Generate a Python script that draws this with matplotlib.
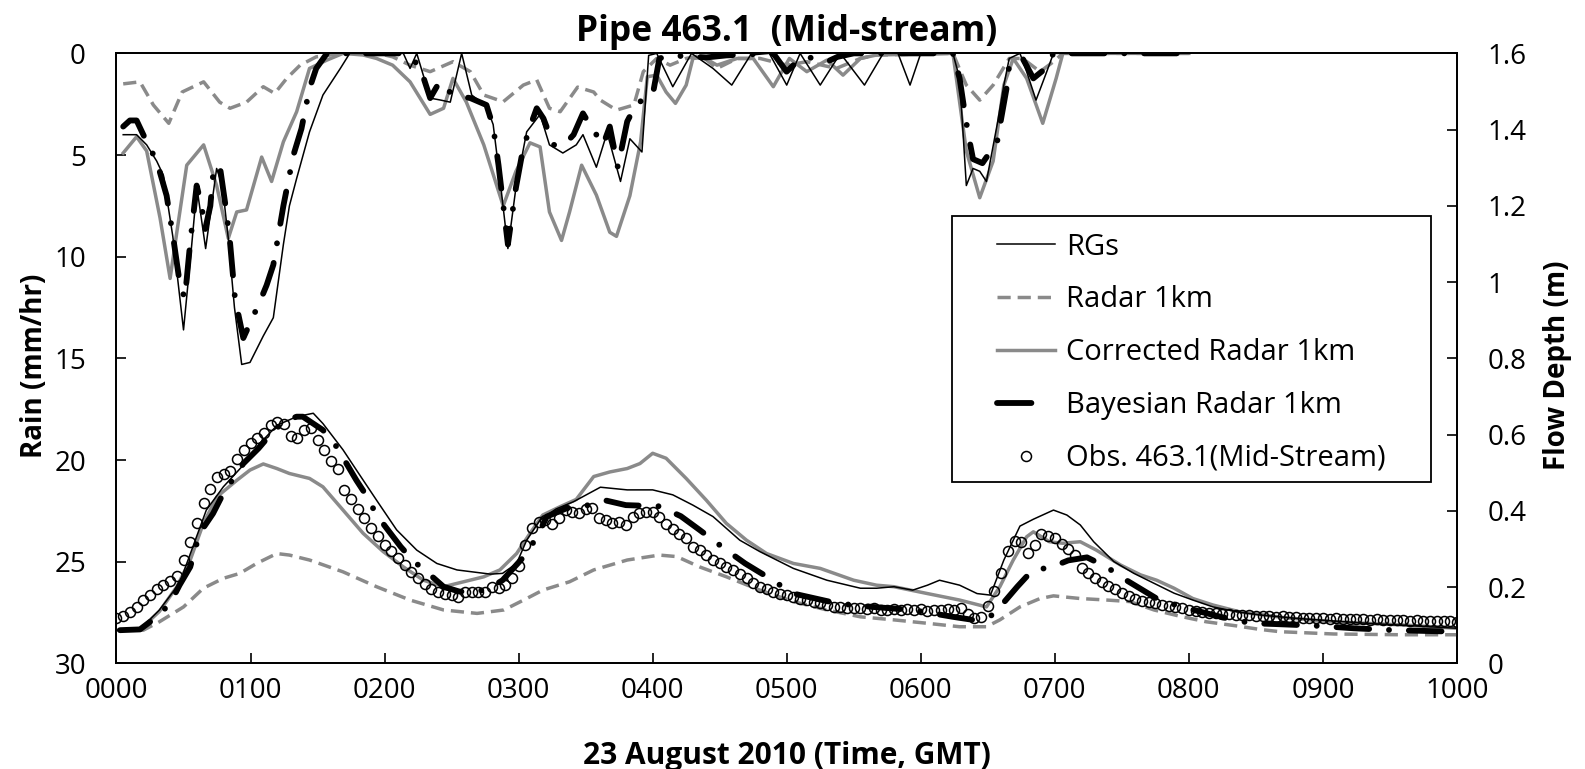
import numpy as np
import matplotlib
matplotlib.use("Agg")
import matplotlib.pyplot as plt
from matplotlib.lines import Line2D
from matplotlib.patches import Rectangle

plt.rcParams['font.family'] = ['Open Sans', 'DejaVu Sans']

# ---------------- data ----------------
x_ticklabels = ['0000', '0100', '0200', '0300', '0400', '0500', '0600', '0700', '0800', '0900', '1000']
rain_ticks = [0, 5, 10, 15, 20, 25, 30]
flow_ticks = [0, 0.2, 0.4, 0.6, 0.8, 1.0, 1.2, 1.4, 1.6]
flow_ticklabels = ['0', '0.2', '0.4', '0.6', '0.8', '1', '1.2', '1.4', '1.6']

# Rain (mm/hr), time in hours
rain_rg_t = [0.05, 0.15, 0.225, 0.30, 0.35, 0.42, 0.50, 0.56, 0.60, 0.665, 0.747, 0.79, 0.834, 0.88, 0.934,
             0.996, 1.095, 1.17, 1.245, 1.29, 1.344, 1.44, 1.54, 1.67, 1.74, 2.14, 2.19, 2.24, 2.34, 2.42,
             2.49, 2.575, 2.65, 2.76, 2.81, 2.86, 2.92, 2.98, 3.06, 3.16, 3.23, 3.33, 3.43, 3.48, 3.58,
             3.66, 3.76, 3.83, 3.92, 3.97, 4.03, 4.15, 4.29, 4.45, 4.59, 4.73, 4.87, 5.0, 5.10, 5.25,
             5.40, 5.58, 5.72, 5.83, 5.92, 6.0, 6.24, 6.29, 6.34, 6.39, 6.44, 6.49, 6.57, 6.62, 6.66,
             6.74, 6.79, 6.86, 6.94, 6.99, 8.0]
rain_rg = [4.0, 4.0, 4.5, 5.3, 6.0, 9.0, 13.6, 9.5, 6.6, 9.6, 5.66, 6.5, 9.1, 12.5, 15.3,
           15.2, 13.9, 13.0, 9.4, 7.5, 6.15, 3.86, 2.05, 0.74, 0.0, 0.0, 0.74, 0.0, 2.2, 2.3,
           2.4, 0.0, 2.05, 2.6, 3.5, 6.15, 9.6, 6.6, 3.86, 3.0, 4.5, 4.9, 4.5, 4.0, 5.6,
           3.9, 6.3, 4.2, 4.85, 0.1, 0.0, 1.64, 0.0, 0.74, 1.56, 0.08, 0.0, 1.56, 0.0, 1.56,
           0.0, 1.56, 0.0, 0.0, 1.56, 0.0, 0.0, 1.23, 6.5, 5.66, 5.8, 6.3, 3.5, 1.56, 0.25,
           0.0, 0.9, 2.3, 0.9, 0.0, 0.0]

rain_radar_t = [0.05, 0.175, 0.275, 0.39, 0.49, 0.65, 0.77, 0.847, 0.97, 1.095, 1.18, 1.27, 1.37, 1.49,
                1.69, 1.95, 2.06, 2.19, 2.34, 2.51, 2.64, 2.74, 2.885, 3.035, 3.135, 3.23, 3.31, 3.44,
                3.56, 3.61, 3.73, 3.86, 3.93, 4.03, 4.13, 4.25, 4.36, 4.48, 4.63, 4.80, 5.0, 5.15,
                5.37, 5.55, 5.67, 6.24, 6.34, 6.44, 6.54, 6.66, 6.76, 6.89, 6.99, 7.06, 8.0]
rain_radar = [1.5, 1.4, 2.54, 3.44, 1.9, 1.4, 2.4, 2.7, 2.4, 1.64, 1.97, 1.23, 0.58, 0.17,
              0.0, 0.0, 0.17, 0.58, 0.9, 0.41, 0.9, 2.05, 2.38, 1.56, 1.3, 2.7, 2.87, 1.66,
              1.9, 2.3, 2.79, 2.54, 0.9, 0.25, 0.58, 0.25, 0.1, 0.74, 0.25, 0.25, 0.58, 0.41,
              0.74, 0.25, 0.08, 0.0, 1.56, 2.3, 1.56, 0.25, 0.25, 0.9, 0.41, 0.0, 0.0]

rain_corr_t = [0.05, 0.15, 0.225, 0.325, 0.40, 0.45, 0.524, 0.65, 0.747, 0.834, 0.897, 0.97, 1.083,
               1.157, 1.245, 1.344, 1.44, 1.57, 1.69, 1.84, 1.94, 2.06, 2.19, 2.34, 2.44, 2.51, 2.61,
               2.74, 2.885, 2.98, 3.085, 3.16, 3.23, 3.32, 3.38, 3.47, 3.58, 3.68, 3.73, 3.83, 3.91,
               3.96, 4.03, 4.10, 4.17, 4.25, 4.30, 4.38, 4.48, 4.63, 4.75, 4.90, 5.02, 5.15, 5.30,
               5.42, 5.55, 5.67, 6.24, 6.34, 6.44, 6.54, 6.62, 6.69, 6.79, 6.91, 7.01, 7.06, 8.0]
rain_corr = [4.9, 4.1, 4.8, 8.1, 11.07, 8.8, 5.5, 4.5, 6.5, 9.1, 7.8, 7.7, 5.1,
             6.3, 4.35, 2.87, 0.74, 0.33, 0.0, 0.08, 0.25, 0.58, 1.4, 3.0, 2.7, 1.23, 2.4,
             4.5, 7.5, 5.8, 4.4, 4.6, 7.8, 9.2, 7.8, 5.5, 6.97, 8.8, 9.0, 7.0, 4.35,
             1.15, 1.07, 1.9, 2.46, 1.56, 0.25, 0.2, 0.58, 0.25, 0.25, 1.64, 0.25, 0.9, 0.33,
             1.07, 0.25, 0.08, 0.0, 4.8, 7.1, 5.3, 1.56, 0.25, 1.23, 3.44, 1.23, 0.0, 0.0]

rain_bayes_t = [0.05, 0.10, 0.15, 0.225, 0.30, 0.374, 0.424, 0.474, 0.51, 0.55, 0.598, 0.635, 0.66,
                0.70, 0.72, 0.77, 0.82, 0.847, 0.884, 0.946, 1.07, 1.12, 1.17, 1.245, 1.32, 1.38,
                1.44, 1.49, 1.57, 2.14, 2.26, 2.34, 2.41, 2.51, 2.64, 2.76, 2.81, 2.85, 2.92, 2.98,
                3.03, 3.08, 3.135, 3.185, 3.26, 3.34, 3.41, 3.48, 3.53, 3.63, 3.68, 3.74, 3.81, 3.88,
                4.0, 4.05, 4.13, 4.4, 4.55, 4.9, 4.999, 5.05, 5.15, 5.30, 5.38, 5.5, 6.24, 6.29,
                6.33, 6.355, 6.39, 6.46, 6.57, 6.60, 6.64, 6.66, 6.76, 6.84, 6.92, 6.99, 8.0]
rain_bayes = [3.6, 3.3, 3.3, 4.35, 5.3, 7.0, 9.1, 11.4, 12.05, 9.3, 6.5, 7.5, 8.7,
              7.5, 6.0, 5.5, 7.8, 9.3, 12.05, 14.0, 12.2, 11.4, 10.4, 7.5, 5.0, 3.7,
              1.72, 0.74, 0.0, 0.0, 0.58, 2.2, 1.4, 2.05, 2.2, 2.54, 3.6, 5.5, 9.4, 6.6,
              4.8, 3.7, 2.7, 3.2, 4.5, 4.5, 4.0, 2.95, 3.5, 4.5, 3.6, 5.6, 3.35, 2.46,
              2.05, 0.25, 0.1, 0.2, 0.1, 0.0, 0.9, 0.58, 0.17, 0.41, 0.17, 0.0, 0.0, 1.23,
              3.0, 4.0, 5.2, 5.4, 4.35, 3.2, 1.72, 0.58, 0.25, 1.23, 0.8, 0.0, 0.0]

# Flow depth (m)
flow_rg_t = [0.0, 0.175, 0.32, 0.47, 0.57, 0.67, 0.797, 0.946, 1.07, 1.20, 1.344, 1.468, 1.54, 1.69,
             1.79, 1.94, 2.09, 2.24, 2.39, 2.54, 2.79, 2.88, 2.985, 3.06, 3.16, 3.28, 3.41, 3.61,
             3.81, 4.0, 4.15, 4.30, 4.45, 4.65, 4.80, 5.05, 5.30, 5.55, 5.67, 5.8, 5.94, 6.05,
             6.14, 6.29, 6.42, 6.52, 6.62, 6.74, 6.84, 6.99, 7.09, 7.19, 7.29, 7.44, 7.59, 7.74,
             7.89, 8.03, 8.18, 8.36, 8.53, 8.8, 9.33, 10.0]
flow_rg = [0.087, 0.089, 0.14, 0.21, 0.306, 0.402, 0.463, 0.52, 0.577, 0.625, 0.647, 0.656, 0.629, 0.56,
           0.507, 0.428, 0.35, 0.297, 0.262, 0.245, 0.234, 0.236, 0.262, 0.323, 0.376, 0.405, 0.424, 0.462,
           0.455, 0.455, 0.442, 0.415, 0.385, 0.323, 0.293, 0.249, 0.218, 0.197, 0.197, 0.201, 0.192, 0.205,
           0.218, 0.205, 0.183, 0.179, 0.271, 0.36, 0.378, 0.402, 0.389, 0.363, 0.319, 0.267, 0.236, 0.21,
           0.184, 0.166, 0.148, 0.135, 0.127, 0.118, 0.105, 0.092]

flow_radar_t = [0.026, 0.2, 0.32, 0.50, 0.648, 0.797, 0.92, 1.045, 1.196, 1.29, 1.44, 1.69, 1.94, 2.19,
                2.44, 2.69, 2.89, 3.06, 3.18, 3.38, 3.56, 3.81, 4.05, 4.18, 4.35, 4.55, 4.80, 5.05,
                5.30, 5.55, 5.80, 6.05, 6.29, 6.49, 6.59, 6.74, 6.89, 6.99, 7.19, 7.39, 7.56, 7.74,
                7.94, 8.13, 8.36, 8.53, 8.68, 9.08, 9.58, 10.0]
flow_radar = [0.087, 0.087, 0.109, 0.148, 0.197, 0.223, 0.236, 0.262, 0.288, 0.284, 0.271, 0.24, 0.201, 0.166,
              0.14, 0.131, 0.14, 0.17, 0.192, 0.214, 0.245, 0.271, 0.284, 0.28, 0.253, 0.227, 0.192, 0.162,
              0.14, 0.122, 0.114, 0.105, 0.096, 0.096, 0.114, 0.148, 0.17, 0.177, 0.17, 0.166, 0.162, 0.14,
              0.123, 0.109, 0.098, 0.089, 0.083, 0.077, 0.075, 0.075]

flow_corr_t = [0.0, 0.175, 0.32, 0.45, 0.55, 0.648, 0.75, 0.897, 0.996, 1.095, 1.196, 1.29, 1.44, 1.54,
               1.69, 1.84, 1.99, 2.14, 2.29, 2.44, 2.59, 2.74, 2.86, 2.985, 3.085, 3.18, 3.31, 3.43,
               3.56, 3.68, 3.81, 3.905, 4.0, 4.10, 4.25, 4.40, 4.55, 4.70, 4.85, 5.05, 5.25, 5.50,
               5.67, 5.80, 6.05, 6.29, 6.49, 6.59, 6.69, 6.79, 6.84, 6.96, 7.06, 7.19, 7.31, 7.49,
               7.64, 7.76, 7.89, 8.03, 8.18, 8.38, 8.71, 9.08, 9.58, 10.0]
flow_corr = [0.087, 0.089, 0.136, 0.201, 0.271, 0.367, 0.437, 0.48, 0.507, 0.523, 0.511, 0.498, 0.485, 0.463,
             0.402, 0.341, 0.293, 0.253, 0.218, 0.201, 0.214, 0.227, 0.245, 0.288, 0.341, 0.389, 0.411, 0.43,
             0.49, 0.502, 0.511, 0.524, 0.551, 0.538, 0.485, 0.428, 0.367, 0.323, 0.288, 0.262, 0.249, 0.218,
             0.205, 0.201, 0.183, 0.166, 0.148, 0.201, 0.271, 0.332, 0.345, 0.319, 0.315, 0.319, 0.297, 0.258,
             0.232, 0.218, 0.197, 0.17, 0.153, 0.135, 0.12, 0.109, 0.101, 0.092]

flow_bayes_t = [0.026, 0.175, 0.30, 0.40, 0.47, 0.55, 0.62, 0.72, 0.797, 0.897, 0.946, 1.06, 1.145, 1.245,
                1.344, 1.39, 1.54, 1.64, 1.79, 1.87, 1.94, 2.12, 2.22, 2.34, 2.44, 2.56, 2.76, 2.88,
                3.06, 3.15, 3.21, 3.36, 3.48, 3.64, 3.80, 4.05, 4.21, 4.35, 4.55, 4.69, 4.83, 5.05,
                5.38, 5.64, 5.94, 6.24, 6.39, 6.54, 6.72, 6.83, 6.98, 7.10, 7.24, 7.39, 7.51, 7.76,
                7.91, 8.08, 8.33, 8.48, 8.65, 8.93, 9.23, 9.53, 10.0]
flow_bayes = [0.087, 0.089, 0.122, 0.157, 0.205, 0.253, 0.341, 0.393, 0.446, 0.498, 0.524, 0.564, 0.599, 0.634,
              0.647, 0.647, 0.612, 0.569, 0.48, 0.437, 0.389, 0.306, 0.267, 0.232, 0.201, 0.188, 0.192, 0.218,
              0.288, 0.341, 0.385, 0.407, 0.411, 0.428, 0.415, 0.412, 0.386, 0.35, 0.297, 0.262, 0.232, 0.183,
              0.157, 0.148, 0.14, 0.122, 0.114, 0.127, 0.201, 0.243, 0.253, 0.27, 0.278, 0.252, 0.223, 0.17,
              0.152, 0.136, 0.114, 0.105, 0.103, 0.099, 0.092, 0.087, 0.083]

# Observed flow depth, every 3 minutes (0.05 h) from 0000 to 1000
obs_t = np.arange(201) * 0.05
obs_flow = [0.118, 0.125, 0.135, 0.148, 0.165, 0.180, 0.196, 0.205, 0.215, 0.228,
            0.270, 0.318, 0.368, 0.420, 0.458, 0.488, 0.497, 0.505, 0.535, 0.560,
            0.578, 0.590, 0.604, 0.625, 0.632, 0.628, 0.596, 0.592, 0.612, 0.618,
            0.585, 0.560, 0.532, 0.510, 0.455, 0.432, 0.405, 0.380, 0.355, 0.335,
            0.310, 0.294, 0.276, 0.258, 0.240, 0.225, 0.208, 0.196, 0.188, 0.183,
            0.180, 0.174, 0.186, 0.188, 0.187, 0.186, 0.200, 0.198, 0.205, 0.225,
            0.255, 0.310, 0.355, 0.372, 0.376, 0.365, 0.380, 0.402, 0.398, 0.395,
            0.405, 0.408, 0.382, 0.376, 0.368, 0.372, 0.362, 0.385, 0.395, 0.398,
            0.396, 0.385, 0.366, 0.352, 0.340, 0.330, 0.306, 0.296, 0.284, 0.272,
            0.262, 0.253, 0.245, 0.234, 0.223, 0.212, 0.200, 0.194, 0.188, 0.183,
            0.178, 0.175, 0.170, 0.166, 0.162, 0.158, 0.152, 0.148, 0.147, 0.145,
            0.146, 0.144, 0.142, 0.145, 0.140, 0.141, 0.143, 0.139, 0.142, 0.140,
            0.143, 0.138, 0.141, 0.139, 0.142, 0.140, 0.145, 0.130, 0.118, 0.122,
            0.150, 0.190, 0.236, 0.295, 0.322, 0.318, 0.290, 0.310, 0.340, 0.334,
            0.328, 0.312, 0.300, 0.285, 0.250, 0.236, 0.225, 0.214, 0.204, 0.194,
            0.184, 0.176, 0.170, 0.164, 0.160, 0.157, 0.153, 0.150, 0.148, 0.144,
            0.140, 0.137, 0.135, 0.133, 0.131, 0.130, 0.129, 0.128, 0.127, 0.126,
            0.125, 0.124, 0.125, 0.122, 0.123, 0.121, 0.122, 0.119, 0.120, 0.118,
            0.119, 0.117, 0.118, 0.116, 0.117, 0.115, 0.116, 0.114, 0.115, 0.113,
            0.114, 0.113, 0.114, 0.112, 0.113, 0.111, 0.112, 0.110, 0.111, 0.110,
            0.109]

labels = ['RGs', 'Radar 1km', 'Corrected Radar 1km', 'Bayesian Radar 1km', 'Obs. 463.1(Mid-Stream)']

# ---------------- styles ----------------
GREY = '#8a8a8a'
sty_rg = dict(color='black', lw=1.1, solid_joinstyle='round')
sty_radar = dict(color=GREY, lw=2.5, linestyle=(0, (3.8, 2.0)))
sty_corr = dict(color=GREY, lw=2.5, solid_joinstyle='round')
sty_bayes = dict(color='black', lw=4.2, linestyle=(0, (5.6, 3.4, 0.01, 3.4)),
                 dash_capstyle='round')

fig = plt.figure(figsize=(15.85, 7.69), dpi=100)
ax = fig.add_axes([0.0735, 0.1374, 0.8457, 0.7932])
ax2 = ax.twinx()

# rain (left, inverted)
ax.plot(rain_radar_t, rain_radar, **sty_radar)
ax.plot(rain_corr_t, rain_corr, **sty_corr)
ax.plot(rain_rg_t, rain_rg, **sty_rg)
ax.plot(rain_bayes_t, rain_bayes, **sty_bayes)

# flow (right)
h_radar, = ax2.plot(flow_radar_t, flow_radar, **sty_radar)
h_corr, = ax2.plot(flow_corr_t, flow_corr, **sty_corr)
h_rg, = ax2.plot(flow_rg_t, flow_rg, **sty_rg)
ax2.plot(flow_bayes_t, flow_bayes, **sty_bayes)
h_obs, = ax2.plot(obs_t, obs_flow, linestyle='none', marker='o', markersize=7.2,
                  markerfacecolor='none', markeredgecolor='black', markeredgewidth=1.1, zorder=5)
# legend proxy for the Bayesian line (single dash, as in the original legend)
h_bayes = Line2D([], [], color='black', lw=4.2, linestyle=(0, (5.9, 30)), dash_capstyle='round')

ax.set_xlim(0, 10)
ax.set_ylim(30, 0)
ax2.set_ylim(0, 1.6)

ax.set_xticks(range(11))
ax.set_xticklabels(x_ticklabels)
ax.set_yticks(rain_ticks)
ax2.set_yticks(flow_ticks)
ax2.set_yticklabels(flow_ticklabels)

ax.tick_params(axis='x', direction='in', length=7, width=1.2, labelsize=20, pad=10)
ax.tick_params(axis='y', direction='in', length=7, width=1.2, labelsize=20, pad=22)
ax2.tick_params(axis='y', direction='in', length=7, width=1.2, labelsize=20, pad=22)
for a in (ax, ax2):
    for s in a.spines.values():
        s.set_linewidth(1.3)

ax.set_title('Pipe 463.1  (Mid-stream)', fontsize=25.5, fontweight='bold', pad=9)
ax.set_xlabel('23 August 2010 (Time, GMT)', fontsize=21.5, fontweight='bold')
ax.set_ylabel('Rain (mm/hr)', fontsize=20, fontweight='bold')
ax2.set_ylabel('Flow Depth (m)', fontsize=20, fontweight='bold')
ax.xaxis.set_label_coords(0.5, -0.128)
ax.yaxis.set_label_coords(-0.0504, 0.488)
ax2.yaxis.set_label_coords(1.0641, 0.488)

# legend frame + entries
ax2.add_patch(Rectangle((0.6233, 0.2972), 0.3573, 0.436, transform=ax2.transAxes,
                        facecolor='white', edgecolor='black', linewidth=1.3, zorder=6))
leg = ax2.legend([h_rg, h_radar, h_corr, h_bayes, h_obs], labels,
                 loc='upper left', bbox_to_anchor=(0.657, 0.706), borderaxespad=0,
                 frameon=False, fontsize=21, handlelength=1.99, handletextpad=0.38,
                 labelspacing=0.815, borderpad=0, numpoints=1)
leg.set_zorder(7)

fig.savefig('out.png', dpi=100)
